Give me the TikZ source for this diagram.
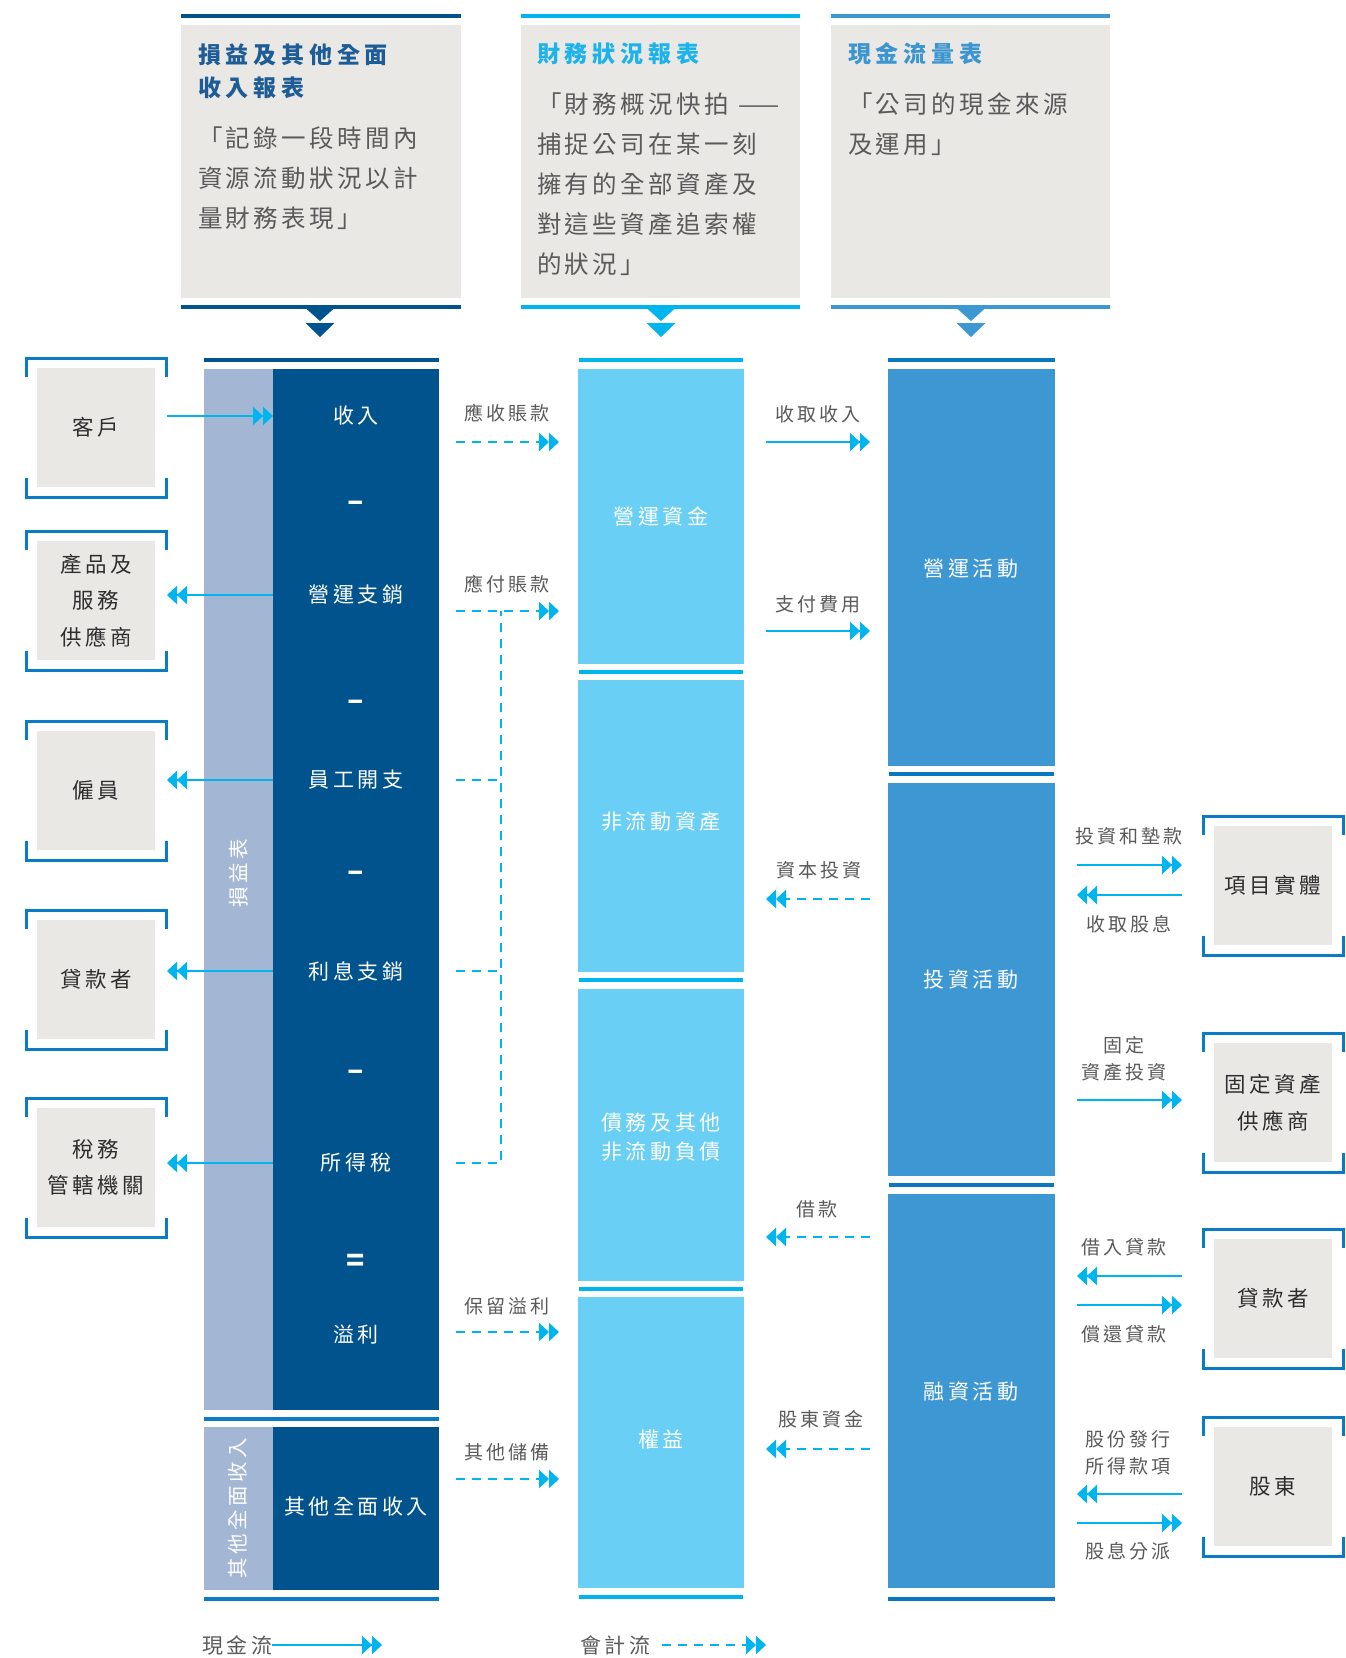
\documentclass[tikz,border=0pt]{standalone}
\usepackage{fontspec}
\usetikzlibrary{arrows.meta}
\setmainfont{Noto Sans CJK TC}
\newfontfamily\cjk{Noto Sans CJK TC}
\newfontfamily\cjkls[LetterSpace=17]{Noto Sans CJK TC}
\newfontfamily\cjkbody[LetterSpace=14]{Noto Sans CJK TC}
\newfontfamily\cjktitle[LetterSpace=21]{Noto Sans CJK TC}
\definecolor{navy}{HTML}{00538C}
\definecolor{lstrip}{HTML}{A3B7D5}
\definecolor{sky}{HTML}{69CFF5}
\definecolor{mblue}{HTML}{3D97D3}
\definecolor{boxgray}{HTML}{EAE8E5}
\definecolor{arrowc}{HTML}{00B4EE}
\definecolor{brk}{HTML}{0A7CC6}
\definecolor{line3}{HTML}{0A78C0}
\definecolor{txtgray}{HTML}{5A5A5A}
\definecolor{txtdark}{HTML}{2E2E2E}
\definecolor{title1}{HTML}{1D5C96}
\definecolor{title2}{HTML}{1CB2EA}
\definecolor{title3}{HTML}{3B95D1}
\tikzset{
  every node/.style={inner sep=0pt, outer sep=0pt},
  wlab/.style={text=white, font=\cjkls\fontsize{21}{29}\selectfont, align=center},
  sym/.style={text=white, font=\cjk\bfseries\fontsize{30}{30}\selectfont},
  alab/.style={text=txtgray, font=\cjkls\fontsize{19}{27}\selectfont, align=center},
  leg/.style={text=txtgray, font=\cjkls\fontsize{21}{25}\selectfont, anchor=west},
  entity/.style={fill=boxgray, minimum width=118pt, minimum height=119pt, outer xsep=12pt,
    text=txtdark, font=\cjkls\fontsize{21.5}{36.5}\selectfont, align=center},
  brkline/.style={draw=brk, line width=3pt},
  hdrtitle/.style={anchor=north west, align=left, font=\cjktitle\bfseries\fontsize{23}{33}\selectfont},
  hdrbody/.style={anchor=north west, align=left, text=txtgray, font=\cjkbody\fontsize{24.5}{40}\selectfont},
  hline/.style={line width=3.2pt},
  cf/.style={draw=arrowc, line width=2.5pt,
    -{Triangle[length=10pt,width=18pt,sep=0pt]Triangle[length=10pt,width=18pt]}},
  af/.style={cf, dash pattern=on 9pt off 7pt},
  dl/.style={draw=arrowc, line width=2.5pt, dash pattern=on 9pt off 7pt},
  vlab/.style={rotate=90, text=white, font=\cjkls\fontsize{20.5}{24}\selectfont},
}
\newcommand\entbox[4]{%
  \node[entity] (#1) at ({#2+70},{#3+69.5}) {#4};
  \draw[brkline] ({#2},{#3+19}) -- ({#2},{#3}) -- ({#2+140},{#3}) -- ({#2+140},{#3+19});
  \draw[brkline] ({#2},{#3+120}) -- ({#2},{#3+139}) -- ({#2+140},{#3+139}) -- ({#2+140},{#3+120});
}
\begin{document}
\begin{tikzpicture}[x=1pt,y=-1pt]
\useasboundingbox[fill=white] (0,0) rectangle (1345,1658);

% ---------- headers ----------
\fill[boxgray] (181,25) rectangle (461,298);
\draw[navy,hline] (181,16) -- (461,16);
\draw[navy,hline] (181,307) -- (461,307);
\fill[navy] (305.5,308) -- (334.5,308) -- (320,321) -- cycle;
\fill[navy] (305.5,323) -- (334.5,323) -- (320,337) -- cycle;
\node[hdrtitle, text=title1] (h1t) at (198,44) {損益及其他全面\\收入報表};
\node[hdrbody] (h1b) at (198,127) {「記錄一段時間內\\資源流動狀況以計\\量財務表現」};

\fill[boxgray] (521,25) rectangle (800,298);
\draw[arrowc,hline] (521,16) -- (800,16);
\draw[arrowc,hline] (521,307) -- (800,307);
\fill[arrowc] (646.5,308) -- (675.5,308) -- (661,321) -- cycle;
\fill[arrowc] (646.5,323) -- (675.5,323) -- (661,337) -- cycle;
\node[hdrtitle, text=title2] (h2t) at (537,43) {財務狀況報表};
\node[hdrbody] (h2b) at (537,93) {「財務概況快拍 ——\\捕捉公司在某一刻\\擁有的全部資產及\\對這些資產追索權\\的狀況」};

\fill[boxgray] (831,25) rectangle (1110,298);
\draw[mblue,hline] (831,16) -- (1110,16);
\draw[mblue,hline] (831,307) -- (1110,307);
\fill[mblue] (956.5,308) -- (985.5,308) -- (971,321) -- cycle;
\fill[mblue] (956.5,323) -- (985.5,323) -- (971,337) -- cycle;
\node[hdrtitle, text=title3] (h3t) at (848,43) {現金流量表};
\node[hdrbody] (h3b) at (848,93) {「公司的現金來源\\及運用」};

% ---------- column 1 ----------
\draw[navy,hline] (204,360) -- (439,360);
\fill[lstrip] (204,369) rectangle (273,1410);
\fill[navy] (273,369) rectangle (439,1410);
\draw[brk,hline] (204,1419) -- (439,1419);
\fill[lstrip] (204,1427) rectangle (273,1590);
\fill[navy] (273,1427) rectangle (439,1590);
\draw[brk,hline] (204,1599) -- (439,1599);

% ---------- column 2 ----------
\draw[arrowc,hline] (579,360) -- (743,360);
\fill[sky] (578,369) rectangle (744,664);
\draw[arrowc,hline] (579,672) -- (743,672);
\fill[sky] (578,680) rectangle (744,972);
\draw[arrowc,hline] (579,980) -- (743,980);
\fill[sky] (578,989) rectangle (744,1281);
\draw[arrowc,hline] (579,1289) -- (743,1289);
\fill[sky] (578,1297) rectangle (744,1588);
\draw[arrowc,hline] (579,1597) -- (743,1597);

% ---------- column 3 ----------
\draw[line3,hline] (888,360) -- (1055,360);
\fill[mblue] (888,369) rectangle (1055,766);
\draw[line3,hline] (889,774) -- (1054,774);
\fill[mblue] (888,783) rectangle (1055,1176);
\draw[line3,hline] (889,1185) -- (1054,1185);
\fill[mblue] (888,1194) rectangle (1055,1588);
\draw[line3,hline] (888,1599) -- (1055,1599);

% ---------- column labels ----------
\node[wlab] (inc) at (356,416) {收入};
\node[sym] (m1) at (356,506) {–};
\node[wlab] (opx) at (356,595) {營運支銷};
\node[sym] (m2) at (356,705) {–};
\node[wlab] (emp) at (356,780) {員工開支};
\node[sym] (m3) at (356,876) {–};
\node[wlab] (int) at (356,971) {利息支銷};
\node[sym] (m4) at (356,1075) {–};
\node[wlab] (tax) at (356,1163) {所得稅};
\node[sym] (eq) at (356,1263) {=};
\node[wlab] (prof) at (356,1335) {溢利};
\node[wlab] (oci) at (356,1507) {其他全面收入};
\node[vlab] (pl) at (239,873) {損益表};
\node[vlab] (ociv) at (238,1508) {其他全面收入};

\node[wlab] (wc) at (661,516) {營運資金};
\node[wlab] (nca) at (661,822) {非流動資產};
\node[wlab] (debt) at (661,1137) {債務及其他\\非流動負債};
\node[wlab] (equ) at (661,1440) {權益};

\node[wlab] (opa) at (971,569) {營運活動};
\node[wlab] (inva) at (971,980) {投資活動};
\node[wlab] (fina) at (971,1392) {融資活動};

% ---------- entities ----------
\entbox{kehu}{26}{358}{客戶}
\entbox{prod}{26}{531}{產品及\\服務\\供應商}
\entbox{staff}{26}{721}{僱員}
\entbox{lendA}{26}{910}{貸款者}
\entbox{taxa}{26}{1098}{稅務\\管轄機關}
\entbox{proj}{1203}{816}{項目實體}
\entbox{fas}{1203}{1033}{固定資產\\供應商}
\entbox{lendB}{1203}{1229}{貸款者}
\entbox{shr}{1203}{1417}{股東}

% ---------- reference coordinates ----------
\coordinate (c1L) at (273,0);
\coordinate (gLa) at (456,0);
\coordinate (gLb) at (559,0);
\coordinate (gV) at (501,0);
\coordinate (gMa) at (766,0);
\coordinate (gMb) at (870,0);
\coordinate (gRa) at (1077,0);
\coordinate (gRb) at (1182,0);
\coordinate (rAR) at (0,442);
\coordinate (rAP) at (0,611);
\coordinate (rRE) at (0,1332);
\coordinate (rOR) at (0,1479);
\coordinate (rCR) at (0,442);
\coordinate (rPE) at (0,631);
\coordinate (rCI) at (0,899);
\coordinate (rBo) at (0,1237);
\coordinate (rSF) at (0,1449);
\coordinate (rIA) at (0,865);
\coordinate (rDR) at (0,895);
\coordinate (rFA) at (0,1100);
\coordinate (rLB) at (0,1276);
\coordinate (rLR) at (0,1305);
\coordinate (rSI) at (0,1494);
\coordinate (rDP) at (0,1523);

% ---------- left arrows ----------
\draw[cf] (kehu.east |- inc) -- (inc -| c1L);
\draw[cf] (opx -| c1L) -- (opx -| prod.east);
\draw[cf] (emp -| c1L) -- (emp -| staff.east);
\draw[cf] (int -| c1L) -- (int -| lendA.east);
\draw[cf] (tax -| c1L) -- (tax -| taxa.east);

% ---------- col1 -> col2 ----------
\node[alab] (lAR) at (507,413) {應收賬款};
\node[alab] (lAP) at (507,584) {應付賬款};
\node[alab] (lRE) at (507,1306) {保留溢利};
\node[alab] (lOR) at (507,1452) {其他儲備};
\draw[af] (rAR -| gLa) -- (rAR -| gLb);
\draw[af] (rAP -| gLa) -- (rAP -| gLb);
\draw[dl] (emp -| gLa) -- (emp -| gV);
\draw[dl] (int -| gLa) -- (int -| gV);
\draw[dl] (tax -| gLa) -- (tax -| gV) -- (rAP -| gV);
\draw[af] (rRE -| gLa) -- (rRE -| gLb);
\draw[af] (rOR -| gLa) -- (rOR -| gLb);

% ---------- col2 <-> col3 ----------
\node[alab] (lCR) at (818,414) {收取收入};
\node[alab] (lPE) at (818,604) {支付費用};
\node[alab] (lCI) at (819,870) {資本投資};
\node[alab] (lBo) at (817,1209) {借款};
\node[alab] (lSF) at (821,1419) {股東資金};
\draw[cf] (rCR -| gMa) -- (rCR -| gMb);
\draw[cf] (rPE -| gMa) -- (rPE -| gMb);
\draw[af] (rCI -| gMb) -- (rCI -| gMa);
\draw[af] (rBo -| gMb) -- (rBo -| gMa);
\draw[af] (rSF -| gMb) -- (rSF -| gMa);

% ---------- col3 <-> right entities ----------
\node[alab] (lIA) at (1129,836) {投資和墊款};
\node[alab] (lDR) at (1129,924) {收取股息};
\node[alab] (lFA) at (1124,1059) {固定\\資產投資};
\node[alab] (lLB) at (1124,1247) {借入貸款};
\node[alab] (lLR) at (1124,1334) {償還貸款};
\node[alab] (lSI) at (1128,1453) {股份發行\\所得款項};
\node[alab] (lDP) at (1128,1551) {股息分派};
\draw[cf] (rIA -| gRa) -- (rIA -| gRb);
\draw[cf] (rDR -| gRb) -- (rDR -| gRa);
\draw[cf] (rFA -| gRa) -- (rFA -| gRb);
\draw[cf] (rLB -| gRb) -- (rLB -| gRa);
\draw[cf] (rLR -| gRa) -- (rLR -| gRb);
\draw[cf] (rSI -| gRb) -- (rSI -| gRa);
\draw[cf] (rDP -| gRa) -- (rDP -| gRb);

% ---------- legend ----------
\node[leg] (lg1) at (202,1645) {現金流};
\coordinate (lg1e) at (382,1645);
\draw[cf] (lg1.east) -- (lg1e);
\node[leg] (lg2) at (580,1645) {會計流};
\coordinate (lg2s) at (662,1645);
\coordinate (lg2e) at (766,1645);
\draw[af] (lg2s) -- (lg2e);
\end{tikzpicture}
\end{document}
